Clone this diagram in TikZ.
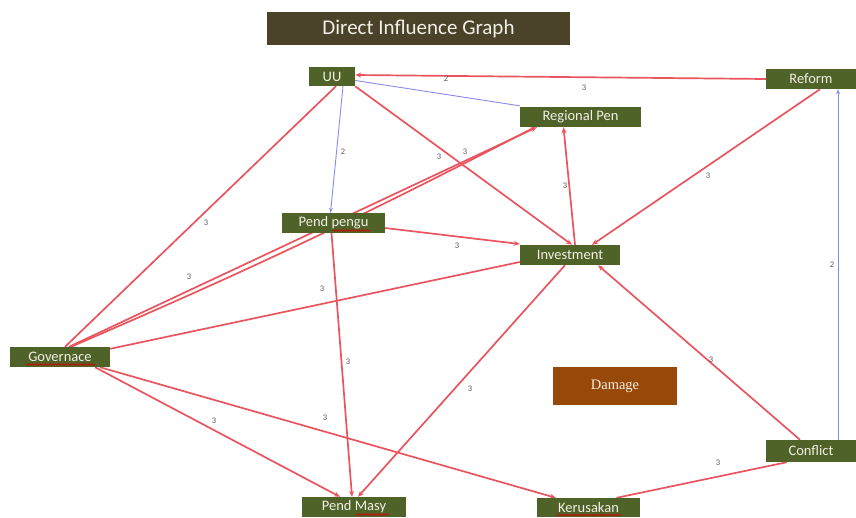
\documentclass[tikz,border=0pt]{standalone}
\usepackage{fontspec}
\setmainfont{Carlito}
\usetikzlibrary{arrows.meta,calc,backgrounds,decorations.pathmorphing}
\definecolor{boxgreen}{HTML}{4F6228}
\definecolor{titlebrown}{HTML}{4A4229}
\definecolor{dmgbrown}{HTML}{984807}
\definecolor{edgered}{HTML}{E9545E}
\definecolor{edgeblue}{HTML}{8A8AEE}
\definecolor{txtcream}{HTML}{F2EFE6}
\tikzset{
  vbox/.style={fill=boxgreen, text=txtcream, font=\fontsize{14.5}{16}\selectfont, inner sep=0pt, align=center},
  rline/.style={draw=edgered, line width=1.7pt},
  rarr/.style={rline, -{Stealth[length=6pt,width=5pt]}},
  bline/.style={draw=edgeblue, line width=0.9pt},
  barr/.style={bline, -{Stealth[length=5pt,width=4pt]}},
  lbl/.style={font=\fontsize{8.5}{9}\selectfont, text=black!65, inner sep=0pt},
  spellwave/.style={draw=red!85!black, line width=0.6pt, decorate, decoration={snake, amplitude=0.8pt, segment length=2.6pt}}
}
\begin{document}
\begin{tikzpicture}[x=1pt,y=-1pt]
\useasboundingbox (0,0) rectangle (856,517);
% title
\node[fill=titlebrown, text=txtcream, font=\fontsize{21}{24}\selectfont, minimum width=303pt, minimum height=33pt, inner sep=0pt] (title) at (418.5,28.5) {Direct Influence Graph};
% nodes
\node[vbox, minimum width=46pt, minimum height=19pt] (uu) at (332,76.5) {UU};
\node[vbox, minimum width=90pt, minimum height=20pt] (reform) at (811,79) {Reform};
\node[vbox, minimum width=121pt, minimum height=20pt] (regpen) at (580.5,117) {Regional Pen};
\node[vbox, minimum width=103pt, minimum height=20pt] (pp) at (333.5,223) {Pend pengu};
\node[vbox, minimum width=100pt, minimum height=20pt] (inv) at (570,255) {Investment};
\node[vbox, minimum width=100pt, minimum height=20pt] (gov) at (60,357) {Governace};
\node[fill=dmgbrown, text=txtcream, font=\fontspec{Liberation Serif}\fontsize{14.5}{16}\selectfont, minimum width=124pt, minimum height=38pt, inner sep=0pt] (dmg) at (615,386) {Damage};
\node[vbox, minimum width=90pt, minimum height=22pt] (conf) at (811,451) {Conflict};
\node[vbox, minimum width=104pt, minimum height=20pt] (pm) at (354,507) {Pend Masy};
\node[vbox, minimum width=103pt, minimum height=19pt] (ker) at (588.5,507.5) {Kerusakan};
% spell-check underlines
\draw[spellwave] ($(pp.center)+(-1,7.5)$) -- ($(pp.center)+(37,7.5)$);
\draw[spellwave] ($(gov.center)+(-34,7.5)$) -- ($(gov.center)+(35,7.5)$);
\draw[spellwave] ($(pm.center)+(2,7.5)$) -- ($(pm.center)+(35,7.5)$);
\draw[spellwave] ($(ker.center)+(-32,7.5)$) -- ($(ker.center)+(33,7.5)$);
% edges
\begin{scope}[on background layer]
\draw[rarr] (reform.west) -- ($(uu.east)+(0,-1.5)$);
\draw[bline] ($(regpen.north west)+(0,-1)$) -- ($(uu.east)+(0,4)$);
\draw[barr] ($(uu.south)+(11,0)$) -- ($(pp.north)+(-3,0)$);
\draw[rline] ($(uu.south)+(4,0)$) -- ($(gov.north)+(5,0)$);
\draw[rarr] (uu.south east) -- ($(inv.north)+(2,0)$);
\draw[rarr] ($(gov.north)+(9,0)$) -- ($(regpen.south west)+(17,0)$);
\draw[rline] ($(gov.north)+(11,0)$) to[bend right=2] ($(regpen.south west)+(15,0)$);
\draw[rarr] ($(pp.east)+(0,5)$) -- ($(inv.west)+(0,-11)$);
\draw[rline] ($(inv.west)+(0,7)$) -- ($(gov.north east)+(0,2)$);
\draw[rarr] ($(inv.north)+(5,0)$) -- ($(regpen.south)+(-17,0)$);
\draw[rarr] ($(reform.south)+(9,0)$) -- ($(inv.north)+(22,0)$);
\draw[barr] ($(conf.north)+(27,0)$) -- ($(reform.south)+(27,0)$);
\draw[rarr] ($(conf.north)+(-11,0)$) -- ($(inv.south)+(28,0)$);
\draw[rline] ($(conf.south west)+(21,0)$) -- ($(ker.north)+(28,0)$);
\draw[rarr] ($(gov.south)+(40,0)$) -- ($(ker.north west)+(19,0)$);
\draw[rarr] ($(gov.south)+(35,0)$) -- ($(pm.north)+(-14,0)$);
\draw[rarr] ($(pp.south)+(-2,0)$) -- ($(pm.north)+(-2,0)$);
\draw[rarr] ($(inv.south)+(-5,0)$) -- ($(pm.north)+(4,0)$);
\end{scope}
% labels
\node[lbl] (l1) at (446,79) {2};
\node[lbl] (l2) at (584,88) {3};
\node[lbl] (l3) at (343,152) {2};
\node[lbl] (l4) at (206,223) {3};
\node[lbl] (l5) at (439,157) {3};
\node[lbl] (l6) at (465,152) {3};
\node[lbl] (l7) at (189,277) {3};
\node[lbl] (l8) at (457,246) {3};
\node[lbl] (l9) at (322,289) {3};
\node[lbl] (l10) at (565,186) {3};
\node[lbl] (l11) at (708,176) {3};
\node[lbl] (l12) at (832,265) {2};
\node[lbl] (l13) at (711,360) {3};
\node[lbl] (l14) at (718,463) {3};
\node[lbl] (l15) at (325,418) {3};
\node[lbl] (l16) at (214,421) {3};
\node[lbl] (l17) at (348,362) {3};
\node[lbl] (l18) at (470,389) {3};
\end{tikzpicture}
\end{document}
